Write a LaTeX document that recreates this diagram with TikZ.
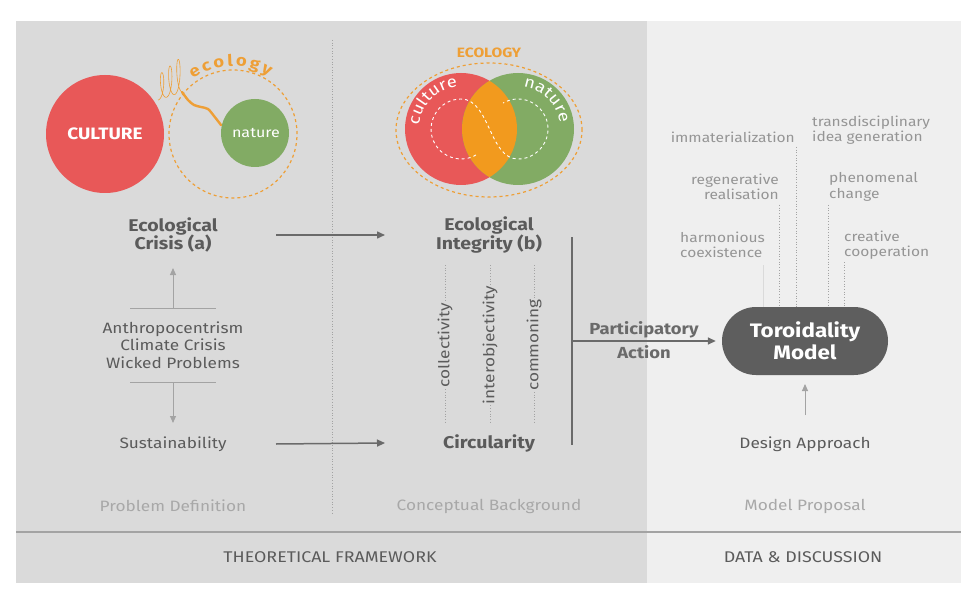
\documentclass[tikz,border=0pt]{standalone}
\usepackage{fontspec}
\setmainfont{Fira Sans}[FakeStretch=1.15]
\usetikzlibrary{arrows.meta,decorations.text}

\definecolor{panelleft}{HTML}{DADADA}
\definecolor{panelright}{HTML}{EFEFEF}
\definecolor{culturered}{HTML}{E85858}
\definecolor{naturegreen}{HTML}{82AB64}
\definecolor{ecoorange}{HTML}{EE9F36}
\definecolor{overlaporange}{HTML}{F29A1E}
\definecolor{textdark}{HTML}{5B5B5B}
\definecolor{textlight}{HTML}{A8A8A8}
\definecolor{tagtext}{HTML}{959595}
\definecolor{linedark}{HTML}{6A6A6A}
\definecolor{linelight}{HTML}{A3A3A3}
\definecolor{pillfill}{HTML}{5E5E5E}

\tikzset{
  heading/.style={align=center, text=textdark, font=\fontsize{17}{18.5}\selectfont\bfseries},
  body/.style={align=center, text=textdark, font=\fontsize{15}{17.5}\selectfont},
  phase/.style={text=textlight, font=\fontsize{15}{17}\selectfont},
  section/.style={text=textdark, font=\fontsize{15.5}{17}\selectfont},
  tag/.style={text=tagtext, font=\fontsize{13.5}{15.5}\selectfont, inner sep=0pt},
  vtag/.style={text=textdark, font=\fontsize{15}{16}\selectfont, fill=panelleft, inner sep=1pt, rotate=90},
  darkarrow/.style={draw=linedark, line width=1.5pt, -{Triangle[length=8pt,width=7pt]}},
  lightarrow/.style={draw=linelight, line width=1pt, -{Triangle[length=7pt,width=6pt]}},
  dotline/.style={draw=linelight, dotted, line width=0.7pt},
  pill/.style={fill=pillfill, text=white, rounded corners=34pt, align=center,
    minimum width=166pt, minimum height=68pt, font=\fontsize{19.5}{22}\selectfont\bfseries}
}

\begin{document}
\begin{tikzpicture}[x=1pt, y=1pt]
\useasboundingbox (0,0) rectangle (979,590);

% panels
\fill [panelleft] (16,7) rectangle (647,569);
\fill [panelright] (647,7) rectangle (961,569);
\draw [linelight, line width=2pt] (16,58) -- (961,58);
\draw [linelight, dotted, line width=0.7pt] (332,550) -- (332,77);

% culture vs nature
\fill [culturered] (105,456) circle (59);
\node (culture) [text=white, font=\fontsize{16.5}{18}\selectfont\bfseries] at (105,456) {CULTURE};
\draw [ecoorange, dashed, line width=1.2pt] (233,456) circle (64);
\fill [naturegreen] (255,457) circle (34);
\node (nature) [text=white, font=\fontsize{14}{15}\selectfont] at (256,457) {nature};
\path [decorate, decoration={text along path, text align={fit to path},
    text={|\fontsize{16}{16}\selectfont\bfseries\color{ecoorange}|ecology}}]
  (233,456) ++(126:68) arc (126:58:68);
\draw [ecoorange, line width=0.6pt] plot [domain=0:1080, samples=200, smooth, variable=\t]
  ({158 + 1.3*\t*pi/180 + 3.5*sin(\t)}, {490 + \t/1080*8 + (24+\t/1080*12)*(1-cos(\t))/2});
\draw [ecoorange, line width=2.4pt, line cap=round] plot [smooth]
  coordinates {(182,498) (188,490) (194,485) (201,483) (208,481) (214,474) (221,465)};

% culture and nature together
\fill [culturered] (461,461) circle (56);
\fill [naturegreen] (518,461) circle (56);
\begin{scope}
  \clip (461,461) circle (56);
  \fill [overlaporange] (518,461) circle (56);
\end{scope}
\draw [ecoorange, dashed, line width=1.2pt] (489,460) ellipse (93 and 67);
\node (ecology) [text=ecoorange, font=\fontsize{13.5}{15}\selectfont\bfseries] at (489,537) {ECOLOGY};
\draw [white, dashed, line width=0.9pt] (461,461) ++(300:30) arc (300:90:30)
  .. controls (490,491) and (489,431) .. (518,431) arc (270:480:30);
\path [decorate, decoration={text along path, text align=center,
    text={|\fontsize{16}{16}\selectfont\color{white}|culture}}]
  (461,461) ++(180:42) arc (180:90:42);
\path [decorate, decoration={text along path, text align=center,
    text={|\fontsize{16}{16}\selectfont\color{white}|nature}}]
  (518,461) ++(88:42) arc (88:2:42);

% problem definition
\node (crisis) [heading] at (173,355) {Ecological\\Crisis (a)};
\node (causes) [body, minimum height=74pt] at (173,245) {Anthropocentrism\\Climate Crisis\\Wicked Problems};
\node (sust) [body] at (173,146) {Sustainability};
\node (probdef) [phase] at (173,84) {Problem Definition};
\draw [linelight] ([xshift=-43pt]causes.north) -- ([xshift=43pt]causes.north);
\draw [linelight] ([xshift=-43pt]causes.south) -- ([xshift=43pt]causes.south);
\draw [lightarrow] (causes.north) -- (crisis.south |- 0,322);
\draw [lightarrow] (causes.south) -- (sust.north |- 0,167);

% conceptual background
\node (integrity) [heading] at (489,355) {Ecological\\Integrity (b)};
\node (circularity) [heading] at (489,147) {Circularity};
\node (concept) [phase] at (489,84) {Conceptual Background};
\foreach \x / \t in {445/collectivity, 490/interobjectivity, 534/commoning}{
    \draw [dotline] (\x,325) -- (\x,167);
    \node (\t) [vtag] at (\x,245) {\t};
}
\draw [darkarrow] (crisis.east -| 276,0) -- (integrity.west -| 385,0);
\draw [darkarrow] (sust.east -| 276,0) -- (circularity.west -| 385,0);

% participatory action
\coordinate (bartop) at (572,353);
\coordinate (barbottom) at (572,145);
\coordinate (barmid) at (572,249);
\draw [linedark, line width=2.5pt] (bartop) -- (barbottom);
\node (toroid) [pill] at (805,249) {Toroidality\\Model};
\draw [darkarrow, shorten >=6pt] (barmid) -- (toroid.west);
\node (particip) [heading, text=linedark, font=\fontsize{16}{24}\selectfont\bfseries] at (644,250) {Participatory\\Action};

% model proposal
\node (immat) [tag, anchor=east] at (795,453) {immaterialization};
\node (transd) [tag, anchor=west, align=left] at (812,460) {transdisciplinary\\idea generation};
\node (regen) [tag, anchor=east, align=right] at (779,403) {regenerative\\realisation};
\node (phenom) [tag, anchor=west, align=left] at (829,403) {phenomenal\\change};
\node (harmon) [tag, anchor=west, align=left] at (680,345) {harmonious\\coexistence};
\node (creative) [tag, anchor=west, align=left] at (844,345) {creative\\cooperation};
\draw [linelight!40, line width=0.6pt] (763,325) -- (763,283);
\foreach \x / \y in {779/385, 796/443, 828/385, 844/328}{
    \draw [dotline] (\x,\y) -- (\x,283);
}
\node (design) [body] at (805,146) {Design Approach};
\draw [lightarrow] (design.north |- 0,175) -- (toroid.south |- 0,206);
\node (modelprop) [phase] at (805,84) {Model Proposal};

% sections
\node (theory) [section] at (330,33) {THEORETICAL FRAMEWORK};
\node (data) [section] at (803,33) {DATA \& DISCUSSION};

\end{tikzpicture}
\end{document}
